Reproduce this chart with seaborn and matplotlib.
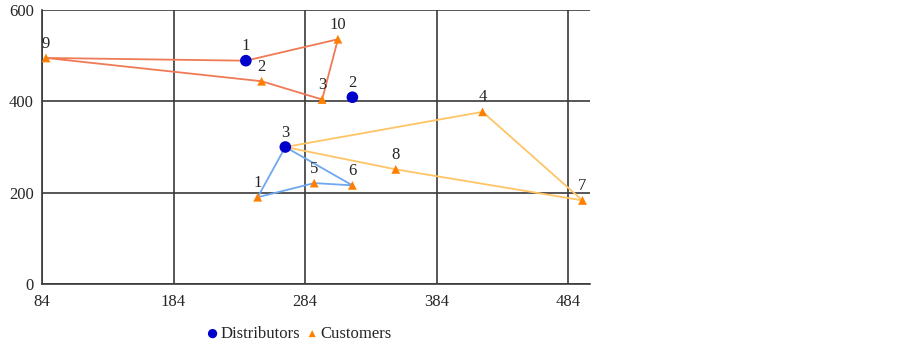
import pandas as pd
import numpy as np
import matplotlib
matplotlib.use("Agg")
import matplotlib.pyplot as plt
import seaborn as sns

# distributor locations
dist_id = [1, 2, 3]
dist_x = [239, 320, 269]
dist_y = [489, 409, 300]

# customer locations
cust_id = [1, 2, 3, 4, 5, 6, 7, 8, 9, 10]
cust_x = [248, 251, 297, 419, 291, 320, 495, 353, 87, 309]
cust_y = [190, 444, 404, 377, 221, 216, 183, 251, 495, 536]

# routes: distributor -> customer sequence -> back
route_dist = [1, 3, 3]
route_seq = [[9, 2, 3, 10], [1, 5, 6], [4, 7, 8]]
route_colors = ["#F07A55", "#6FA8EE", "#FFC466"]

sns.set_style("white")
plt.rcParams["font.family"] = ["Liberation Serif", "DejaVu Serif"]

fig = plt.figure(figsize=(9.02, 3.45), dpi=100)
ax = fig.add_axes([0.0466, 0.1768, 0.6075, 0.7942])

cust = pd.DataFrame({"id": cust_id, "x": cust_x, "y": cust_y}).set_index("id")
dist = pd.DataFrame({"id": dist_id, "x": dist_x, "y": dist_y}).set_index("id")

for d, seq, col in zip(route_dist, route_seq, route_colors):
    xs = [dist.loc[d, "x"]] + [cust.loc[c, "x"] for c in seq] + [dist.loc[d, "x"]]
    ys = [dist.loc[d, "y"]] + [cust.loc[c, "y"] for c in seq] + [dist.loc[d, "y"]]
    tdf = pd.DataFrame({"x": xs, "y": ys})
    sns.lineplot(data=tdf, x="x", y="y", sort=False, color=col, lw=1.3,
                 ax=ax, estimator=None, zorder=3)

sns.scatterplot(x=cust_x, y=cust_y, marker="^", color="#FF8000", s=40,
                edgecolor="none", ax=ax, zorder=4, label="Customers")
sns.scatterplot(x=dist_x, y=dist_y, marker="o", color="#0000CC", s=70,
                edgecolor="none", ax=ax, zorder=5, label="Distributors")

for i, x, y in zip(cust_id, cust_x, cust_y):
    ax.text(x, y + 14, str(i), ha="center", va="bottom", fontsize=12, zorder=6)
for i, x, y in zip(dist_id, dist_x, dist_y):
    ax.text(x, y + 14, str(i), ha="center", va="bottom", fontsize=12, zorder=6)

ax.set_xlim(84, 500.7)
ax.set_ylim(0, 600)
ax.set_xticks([84, 184, 284, 384, 484])
ax.set_yticks([0, 200, 400, 600])
ax.grid(True, color="#3a3a3a", lw=1.2)
ax.set_axisbelow(True)
for s in ["top", "right"]:
    ax.spines[s].set_visible(False)
for s in ["left", "bottom"]:
    ax.spines[s].set_color("#3a3a3a")
    ax.spines[s].set_linewidth(1.2)
ax.tick_params(axis="both", length=5, width=1.2, color="#3a3a3a",
               labelsize=12, pad=1, direction="out")
ax.tick_params(axis="x", pad=2)
ax.set_xlabel("")
ax.set_ylabel("")

h, l = ax.get_legend_handles_labels()
ax.get_legend().remove()
order = [l.index("Distributors"), l.index("Customers")]
fig.legend([h[i] for i in order], [l[i] for i in order], loc="center",
           bbox_to_anchor=(298 / 902, 1 - 334 / 345), ncol=2, frameon=False,
           fontsize=12, handletextpad=0.0, columnspacing=0.2,
           markerscale=0.8, handlelength=1.0)

fig.savefig("out.png", dpi=100)
